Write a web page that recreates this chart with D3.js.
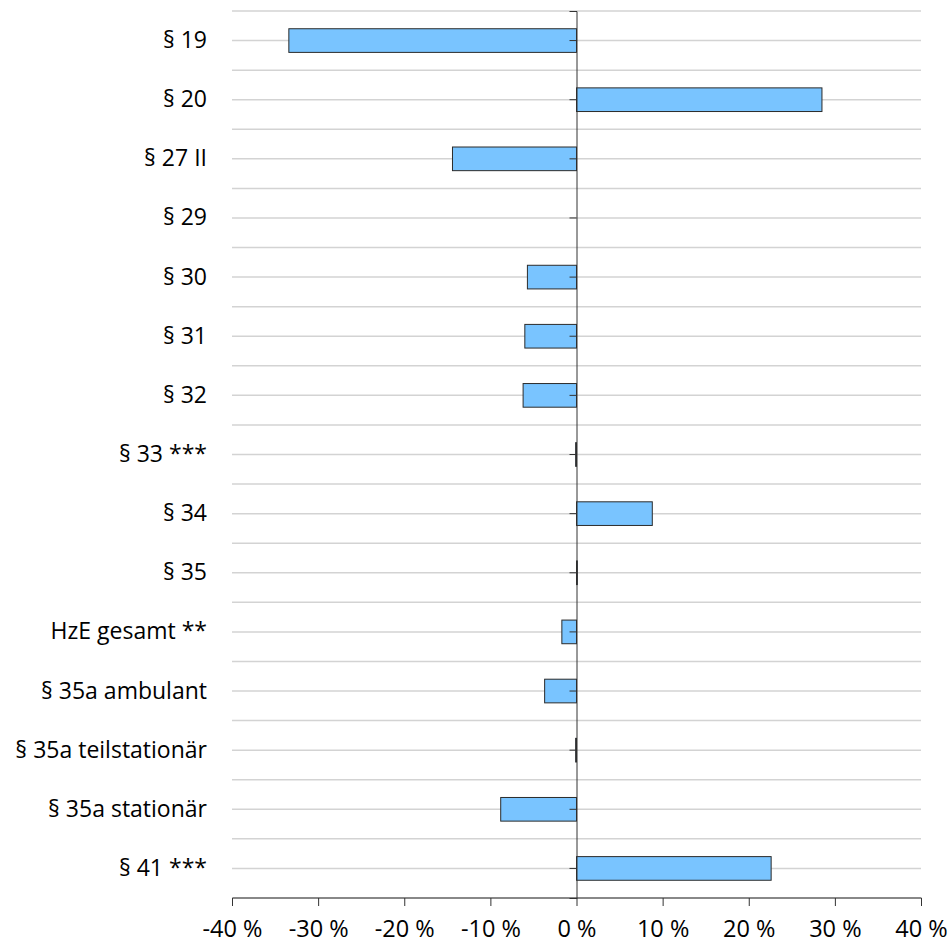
<!DOCTYPE html>
<html>
<head>
<meta charset="utf-8">
<script src="https://cdn.jsdelivr.net/npm/d3@7"></script>
<style>
  body { margin: 0; background: #fff; }
  text { font-family: "Open Sans", sans-serif; fill: #000; }
</style>
</head>
<body>
<div id="chart"></div>
<script>
// categories top to bottom, change in percent
var categories = ['§ 19', '§ 20', '§ 27 II', '§ 29', '§ 30', '§ 31', '§ 32', '§ 33 ***', '§ 34', '§ 35',
  'HzE gesamt **', '§ 35a ambulant', '§ 35a teilstationär', '§ 35a stationär', '§ 41 ***']
var values = [-33.4, 28.5, -14.4, 0, -5.7, -6.0, -6.2, -0.1, 8.8, 0.1, -1.7, -3.7, -0.1, -8.8, 22.6]
var xTicks = [-40, -30, -20, -10, 0, 10, 20, 30, 40]

var data = categories.map(function(c, i){ return {cat: c, val: values[i]} })

var totalW = 949, totalH = 948
var margin = {left: 232, right: 28, top: 11, bottom: 50}
var width = totalW - margin.left - margin.right
var height = totalH - margin.top - margin.bottom

var svg = d3.select('#chart').append('svg')
  .attr('width', totalW).attr('height', totalH)
var g = svg.append('g').attr('transform', 'translate(' + margin.left + ',' + margin.top + ')')

var x = d3.scaleLinear().domain([-40, 40]).range([0, width])
var y = d3.scaleBand().domain(categories).range([0, height]).padding(0)

// gridlines at category centres and boundaries
var gridYs = []
categories.forEach(function(c){
  gridYs.push(y(c))
  gridYs.push(y(c) + y.bandwidth() / 2)
})
gridYs.push(height)

g.selectAll('line.grid').data(gridYs).enter().append('line')
  .attr('class', 'grid')
  .attr('x1', 0).attr('x2', width)
  .attr('y1', function(d){ return d }).attr('y2', function(d){ return d })
  .attr('stroke', '#d3d3d3').attr('stroke-width', 1.5)

// bars
var barH = y.bandwidth() * 0.4
g.selectAll('rect.bar').data(data).enter().append('rect')
  .attr('class', 'bar')
  .attr('x', function(d){ return x(Math.min(0, d.val)) })
  .attr('y', function(d){ return y(d.cat) + (y.bandwidth() - barH) / 2 })
  .attr('width', function(d){ return Math.abs(x(d.val) - x(0)) })
  .attr('height', barH)
  .attr('fill', '#79c4ff')
  .attr('stroke', '#2b2b2b').attr('stroke-width', 1)

// vertical zero axis with small ticks at category centres
var yAxis = d3.axisLeft(y).tickSize(7).tickFormat('')
var ya = g.append('g').attr('transform', 'translate(' + x(0) + ',0)').call(yAxis)
ya.select('.domain').attr('stroke', '#333')
ya.selectAll('.tick line').attr('stroke', '#333')

// category labels
g.selectAll('text.cat').data(categories).enter().append('text')
  .attr('class', 'cat')
  .attr('x', -25)
  .attr('y', function(d){ return y(d) + y.bandwidth() / 2 + 7.5 })
  .attr('text-anchor', 'end')
  .style('font-size', '23px')
  .text(function(d){ return d })

// x axis
var xAxis = d3.axisBottom(x).tickValues(xTicks).tickSize(8).tickPadding(14)
  .tickFormat(function(d){ return d + ' %' })
var xa = g.append('g').attr('transform', 'translate(0,' + height + ')').call(xAxis)
xa.select('.domain').attr('stroke', '#333').attr('d', 'M0.5,0H' + (width + 0.5))
xa.selectAll('.tick line').attr('stroke', '#333')
xa.selectAll('.tick text').style('font-size', '23.5px').attr('font-family', null)
</script>
</body>
</html>
